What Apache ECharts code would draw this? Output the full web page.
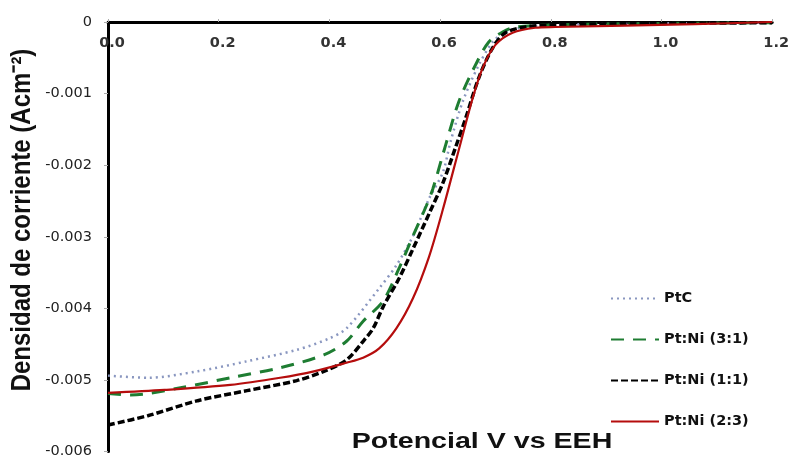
<!DOCTYPE html>
<html><head><meta charset="utf-8">
<script src="https://cdn.jsdelivr.net/npm/echarts@6/dist/echarts.min.js"></script>
<style>html,body{margin:0;padding:0;background:#fff}#c{width:792px;height:459px}</style>
</head><body><div id="c"></div>
<script>
const seriesNames = ['PtC', 'Pt:Ni (3:1)', 'Pt:Ni (1:1)', 'Pt:Ni (2:3)'];
const xTicks = [0.0, 0.2, 0.4, 0.6, 0.8, 1.0, 1.2];
const yTicks = [0, -0.001, -0.002, -0.003, -0.004, -0.005, -0.006];
const xTitle = 'Potencial V vs EEH';
const yTitle = 'Densidad de corriente (Acm⁻²)';

const ptcV = [0, 0.072, 0.162, 0.251, 0.341, 0.400, 0.431, 0.490, 0.521, 0.551, 0.580, 0.605, 0.619, 0.641, 0.670, 0.695, 0.718, 0.754, 0.808, 1.0, 1.2];
const ptcJ = [-0.00494, -0.00497, -0.00488, -0.00474, -0.00458, -0.00442, -0.00428, -0.00372, -0.00340, -0.00299, -0.00247, -0.00210, -0.00167, -0.00111, -0.00060, -0.00028, -0.00014, -0.00007, -0.00004, -0.00002, -0.00001];

const n31V = [0, 0.041, 0.131, 0.221, 0.311, 0.390, 0.431, 0.461, 0.497, 0.526, 0.551, 0.575, 0.587, 0.610, 0.634, 0.664, 0.688, 0.713, 0.736, 0.808, 1.0, 1.2];
const n31J = [-0.00519, -0.00521, -0.00511, -0.00497, -0.00483, -0.00465, -0.00446, -0.00418, -0.00390, -0.00344, -0.00299, -0.00257, -0.00233, -0.00172, -0.00111, -0.00060, -0.00028, -0.00014, -0.00007, -0.00004, -0.00002, -0.00001];

const n11V = [0, 0.072, 0.162, 0.251, 0.341, 0.390, 0.431, 0.461, 0.479, 0.497, 0.526, 0.551, 0.580, 0.605, 0.628, 0.646, 0.670, 0.695, 0.718, 0.754, 0.808, 1.0, 1.2];
const n11J = [-0.00563, -0.00550, -0.00529, -0.00515, -0.00501, -0.00488, -0.00472, -0.00446, -0.00428, -0.00398, -0.00358, -0.00317, -0.00268, -0.00225, -0.00175, -0.00135, -0.00078, -0.00036, -0.00015, -0.00007, -0.00004, -0.00002, -0.00001];

const n23V = [0, 0.102, 0.221, 0.311, 0.372, 0.431, 0.461, 0.490, 0.521, 0.551, 0.580, 0.605, 0.634, 0.659, 0.677, 0.700, 0.731, 0.772, 0.808, 1.06, 1.2];
const n23J = [-0.00518, -0.00514, -0.00507, -0.00497, -0.00488, -0.00476, -0.00469, -0.00456, -0.00428, -0.00386, -0.00328, -0.00262, -0.00178, -0.00106, -0.00064, -0.00032, -0.00015, -0.00008, -0.00007, -0.00003, 0.00000];

const zip = (a, b) => a.map((v, i) => [v, b[i]]);

const chart = echarts.init(document.getElementById('c'), null, {renderer: 'canvas'});
const FONT = 'Liberation Sans, Arial, sans-serif';
const WFONT = 'DejaVu Sans, sans-serif';
chart.setOption({
  animation: false,
  backgroundColor: '#ffffff',
  graphic: [
    {type: 'text', x: 482, y: 442, scaleX: 1.3, scaleY: 1,
     style: {text: xTitle, font: 'bold 22px ' + FONT, fill: '#111', align: 'center', verticalAlign: 'middle'}},
    {type: 'text', x: 22, y: 220, rotation: Math.PI / 2, scaleX: 1, scaleY: 1.15,
     style: {text: yTitle, font: 'bold 24px ' + FONT, fill: '#111', align: 'center', verticalAlign: 'middle'}}
  ],
  legend: {
    orient: 'vertical',
    left: 605, top: 286,
    itemWidth: 48, itemHeight: 14, itemGap: 26,
    data: seriesNames,
    itemStyle: {opacity: 0},
    textStyle: {fontFamily: WFONT, fontWeight: 'bold', fontSize: 14.5, color: '#111'}
  },
  grid: {left: 108, right: 14, top: 22, bottom: 5},
  xAxis: {
    type: 'value', position: 'top', min: 0, max: 1.2, interval: 0.2,
    axisLine: {onZero: false, lineStyle: {color: '#000', width: 3}},
    axisTick: {show: true, inside: false, length: 3, lineStyle: {color: '#aaa'}},
    axisLabel: {inside: true, margin: 14, fontFamily: WFONT, fontSize: 14.5, fontWeight: 'bold', color: '#333',
      padding: [0, 0, 0, 8], formatter: v => v.toFixed(1)},
    splitLine: {show: false}
  },
  yAxis: {
    type: 'value', min: -0.006, max: 0, interval: 0.001,
    axisLine: {onZero: false, lineStyle: {color: '#000', width: 3}},
    axisTick: {show: true, length: 4, lineStyle: {color: '#aaa'}},
    axisLabel: {margin: 16, fontFamily: WFONT, fontSize: 14.5, color: '#222',
      formatter: v => (Math.abs(v) < 1e-9 ? '0' : v.toFixed(3))},
    splitLine: {show: false}
  },
  series: [
    {name: seriesNames[0], type: 'line', data: zip(ptcV, ptcJ), smooth: 0.3, symbol: 'none',
     lineStyle: {color: '#8a97c0', width: 2.5, type: [2, 4]}, itemStyle: {color: '#8a97c0'}},
    {name: seriesNames[1], type: 'line', data: zip(n31V, n31J), smooth: 0.3, symbol: 'none',
     lineStyle: {color: '#1e7d32', width: 3, type: [13, 9]}, itemStyle: {color: '#1e7d32'}},
    {name: seriesNames[2], type: 'line', data: zip(n11V, n11J), smooth: 0.3, symbol: 'none',
     lineStyle: {color: '#000', width: 3.5, type: [7, 3]}, itemStyle: {color: '#000'}},
    {name: seriesNames[3], type: 'line', data: zip(n23V, n23J), smooth: 0.3, symbol: 'none',
     lineStyle: {color: '#b50d0d', width: 2.2}, itemStyle: {color: '#b50d0d'}}
  ]
});
</script>
</body></html>
